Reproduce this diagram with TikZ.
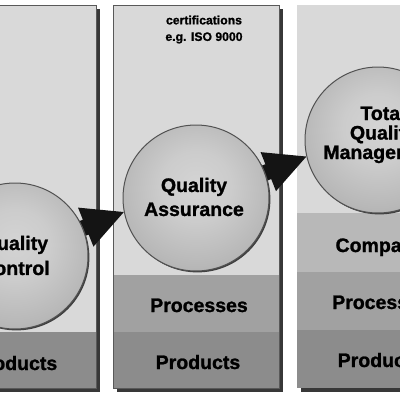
\documentclass[tikz,border=0pt]{standalone}
\usepackage{fontspec}
\setmainfont{Liberation Sans}[BoldFeatures={FakeBold=1.2}]
\usetikzlibrary{shadows}
\pgfdeclarelayer{bg}
\pgfdeclarelayer{mid}
\pgfsetlayers{bg,mid,main}
\pgfdeclareradialshading{spherelight}{\pgfpoint{0bp}{5bp}}{color(0bp)=(black!17); color(12bp)=(black!20); color(26bp)=(black!28); color(38bp)=(black!38); color(47bp)=(black!48); color(51bp)=(black!55); color(60bp)=(black!58)}
\tikzset{
  panelbg/.style={fill=black!15},
  shadowfill/.style={fill=black!78},
  panelborder/.style={draw=black!65, line width=0.8pt},
  bandcompany/.style={fill=black!28},
  bandprocess/.style={fill=black!37},
  bandproduct/.style={fill=black!45},
  bandlabel/.style={font=\bfseries\fontsize{19.5}{24}\selectfont, anchor=base, inner sep=0pt},
  smalllabel/.style={font=\bfseries\fontsize{12.2}{16.5}\selectfont, align=center, inner sep=0pt},
  sphere/.style={circle, minimum size=146pt, inner sep=0pt, shading=spherelight,
    draw=black!68, line width=1pt, align=center,
    drop shadow={shadow xshift=1.4pt, shadow yshift=-1.4pt, fill=black!75, opacity=1}},
  spheretext/.style={font=\bfseries\fontsize{19.5}{#1}\selectfont, align=center, inner sep=0pt},
  bigarrow/.pic={\fill[black!92] (0,0) -- (-45.8,-4.4) -- (-41.0,7.7) -- (-82.9,24.3)
      -- (-77.1,39.1) -- (-35.2,22.5) -- (-30.4,34.6) -- cycle;}
}
\begin{document}
\begin{tikzpicture}[x=1pt,y=-1pt]
\useasboundingbox (0,0) rectangle (400,400);

% spheres (main layer)
\node[sphere] (qc) at (15,256) {};
\node[sphere] (qa) at (196,198) {};
\node[sphere] (tqm) at (378,140) {};
\node[spheretext=25] (qctext) at (15,255.5) {Quality\\Control};
\node[spheretext=24] (qatext) at (194,197) {Quality\\Assurance};
\node[spheretext=19.5] (tqmtext) at (383,134.5) {Total\\Quality\\Management};

% arrows (middle layer)
\begin{pgfonlayer}{mid}
  \pic (arrowone) at (qa.191) {bigarrow};
  \pic (arrowtwo) at (tqm.193) {bigarrow};
\end{pgfonlayer}

% panels (background layer)
\begin{pgfonlayer}{bg}
  \fill[white] (0,0) rectangle (400,400);
  % panel 1
  \fill[shadowfill] (-66,9) rectangle (100,392);
  \fill[panelbg] (-70,5) rectangle (96,388);
  \fill[bandproduct] (-70,332) rectangle (96,388);
  \draw[panelborder] (-70,5) rectangle (96,388);
  % panel 2
  \fill[shadowfill] (117,9) rectangle (283,392);
  \fill[panelbg] (113,5) rectangle (279,388);
  \fill[bandprocess] (113,275) rectangle (279,332);
  \fill[bandproduct] (113,332) rectangle (279,388);
  \draw[panelborder] (113,5) rectangle (279,388);
  % panel 3
  \fill[shadowfill] (301,9) rectangle (467,392);
  \fill[panelbg] (297,5) rectangle (463,388);
  \fill[bandcompany] (297,213) rectangle (463,272);
  \fill[bandprocess] (297,272) rectangle (463,330);
  \fill[bandproduct] (297,330) rectangle (463,388);
\end{pgfonlayer}

% labels
\node[bandlabel] (prod1) at (15,370) {Products};
\node[bandlabel] (proc2) at (199,312) {Processes};
\node[bandlabel] (prod2) at (198,369) {Products};
\node[bandlabel] (comp3) at (380,252) {Company};
\node[bandlabel] (proc3) at (381,309) {Processes};
\node[bandlabel] (prod3) at (380,367) {Products};
\node[smalllabel] (cert) at (204,29.5) {certifications\\e.g. ISO 9000};
\end{tikzpicture}
\end{document}
